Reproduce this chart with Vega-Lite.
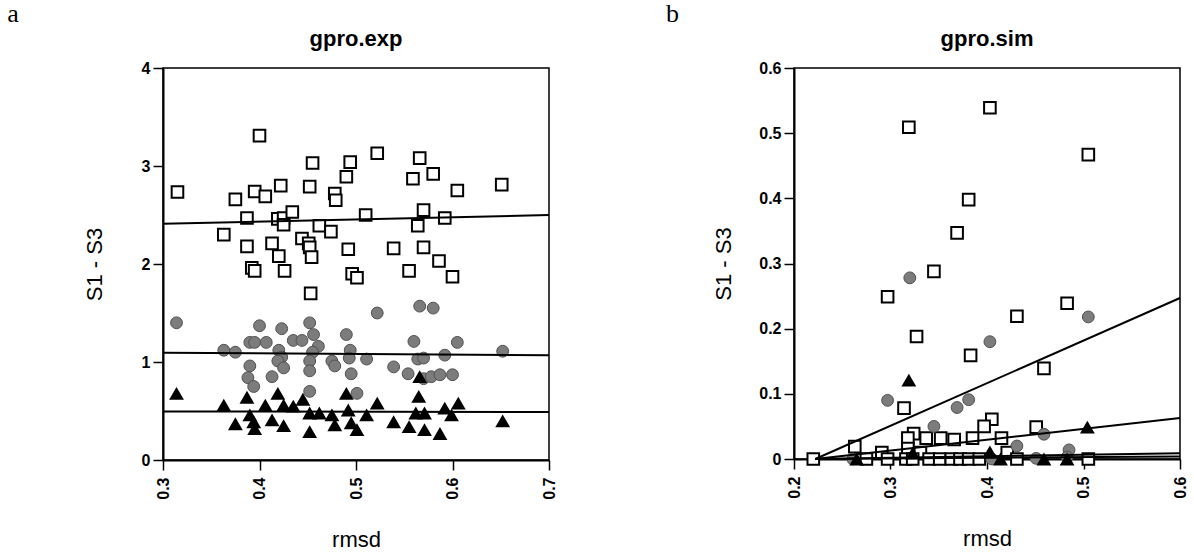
{
  "$schema": "https://vega.github.io/schema/vega-lite/v6.json",
  "background": "white",
  "padding": {"left": 7, "top": 1, "right": 0, "bottom": 0},
  "spacing": 108,
  "datasets": {
    "expPts": [
      {"rmsd": 0.315, "diff": 2.735, "series": "sq"},
      {"rmsd": 0.400, "diff": 3.31, "series": "sq"},
      {"rmsd": 0.375, "diff": 2.66, "series": "sq"},
      {"rmsd": 0.395, "diff": 2.74, "series": "sq"},
      {"rmsd": 0.406, "diff": 2.69, "series": "sq"},
      {"rmsd": 0.422, "diff": 2.80, "series": "sq"},
      {"rmsd": 0.452, "diff": 2.79, "series": "sq"},
      {"rmsd": 0.455, "diff": 3.03, "series": "sq"},
      {"rmsd": 0.478, "diff": 2.72, "series": "sq"},
      {"rmsd": 0.479, "diff": 2.65, "series": "sq"},
      {"rmsd": 0.490, "diff": 2.89, "series": "sq"},
      {"rmsd": 0.494, "diff": 3.04, "series": "sq"},
      {"rmsd": 0.522, "diff": 3.13, "series": "sq"},
      {"rmsd": 0.566, "diff": 3.08, "series": "sq"},
      {"rmsd": 0.559, "diff": 2.87, "series": "sq"},
      {"rmsd": 0.580, "diff": 2.92, "series": "sq"},
      {"rmsd": 0.605, "diff": 2.75, "series": "sq"},
      {"rmsd": 0.651, "diff": 2.81, "series": "sq"},
      {"rmsd": 0.363, "diff": 2.30, "series": "sq"},
      {"rmsd": 0.387, "diff": 2.47, "series": "sq"},
      {"rmsd": 0.387, "diff": 2.18, "series": "sq"},
      {"rmsd": 0.413, "diff": 2.21, "series": "sq"},
      {"rmsd": 0.420, "diff": 2.08, "series": "sq"},
      {"rmsd": 0.419, "diff": 2.46, "series": "sq"},
      {"rmsd": 0.425, "diff": 2.47, "series": "sq"},
      {"rmsd": 0.425, "diff": 2.40, "series": "sq"},
      {"rmsd": 0.434, "diff": 2.53, "series": "sq"},
      {"rmsd": 0.444, "diff": 2.26, "series": "sq"},
      {"rmsd": 0.451, "diff": 2.21, "series": "sq"},
      {"rmsd": 0.452, "diff": 2.17, "series": "sq"},
      {"rmsd": 0.454, "diff": 2.07, "series": "sq"},
      {"rmsd": 0.462, "diff": 2.39, "series": "sq"},
      {"rmsd": 0.474, "diff": 2.33, "series": "sq"},
      {"rmsd": 0.492, "diff": 2.15, "series": "sq"},
      {"rmsd": 0.510, "diff": 2.50, "series": "sq"},
      {"rmsd": 0.539, "diff": 2.16, "series": "sq"},
      {"rmsd": 0.564, "diff": 2.39, "series": "sq"},
      {"rmsd": 0.570, "diff": 2.55, "series": "sq"},
      {"rmsd": 0.570, "diff": 2.17, "series": "sq"},
      {"rmsd": 0.592, "diff": 2.47, "series": "sq"},
      {"rmsd": 0.586, "diff": 2.03, "series": "sq"},
      {"rmsd": 0.600, "diff": 1.87, "series": "sq"},
      {"rmsd": 0.555, "diff": 1.93, "series": "sq"},
      {"rmsd": 0.496, "diff": 1.90, "series": "sq"},
      {"rmsd": 0.501, "diff": 1.86, "series": "sq"},
      {"rmsd": 0.426, "diff": 1.93, "series": "sq"},
      {"rmsd": 0.392, "diff": 1.96, "series": "sq"},
      {"rmsd": 0.395, "diff": 1.93, "series": "sq"},
      {"rmsd": 0.453, "diff": 1.70, "series": "sq"},
      {"rmsd": 0.314, "diff": 1.40, "series": "ci"},
      {"rmsd": 0.363, "diff": 1.12, "series": "ci"},
      {"rmsd": 0.375, "diff": 1.10, "series": "ci"},
      {"rmsd": 0.390, "diff": 1.20, "series": "ci"},
      {"rmsd": 0.395, "diff": 1.20, "series": "ci"},
      {"rmsd": 0.407, "diff": 1.20, "series": "ci"},
      {"rmsd": 0.400, "diff": 1.37, "series": "ci"},
      {"rmsd": 0.423, "diff": 1.34, "series": "ci"},
      {"rmsd": 0.390, "diff": 0.96, "series": "ci"},
      {"rmsd": 0.388, "diff": 0.84, "series": "ci"},
      {"rmsd": 0.394, "diff": 0.75, "series": "ci"},
      {"rmsd": 0.413, "diff": 0.85, "series": "ci"},
      {"rmsd": 0.420, "diff": 1.12, "series": "ci"},
      {"rmsd": 0.423, "diff": 1.05, "series": "ci"},
      {"rmsd": 0.419, "diff": 1.01, "series": "ci"},
      {"rmsd": 0.425, "diff": 0.94, "series": "ci"},
      {"rmsd": 0.435, "diff": 1.22, "series": "ci"},
      {"rmsd": 0.444, "diff": 1.22, "series": "ci"},
      {"rmsd": 0.452, "diff": 1.40, "series": "ci"},
      {"rmsd": 0.456, "diff": 1.28, "series": "ci"},
      {"rmsd": 0.461, "diff": 1.16, "series": "ci"},
      {"rmsd": 0.455, "diff": 1.10, "series": "ci"},
      {"rmsd": 0.452, "diff": 1.01, "series": "ci"},
      {"rmsd": 0.452, "diff": 0.91, "series": "ci"},
      {"rmsd": 0.452, "diff": 0.70, "series": "ci"},
      {"rmsd": 0.475, "diff": 1.01, "series": "ci"},
      {"rmsd": 0.478, "diff": 0.96, "series": "ci"},
      {"rmsd": 0.490, "diff": 1.28, "series": "ci"},
      {"rmsd": 0.494, "diff": 1.12, "series": "ci"},
      {"rmsd": 0.493, "diff": 1.04, "series": "ci"},
      {"rmsd": 0.495, "diff": 0.88, "series": "ci"},
      {"rmsd": 0.501, "diff": 0.68, "series": "ci"},
      {"rmsd": 0.511, "diff": 1.03, "series": "ci"},
      {"rmsd": 0.522, "diff": 1.50, "series": "ci"},
      {"rmsd": 0.539, "diff": 0.95, "series": "ci"},
      {"rmsd": 0.554, "diff": 0.88, "series": "ci"},
      {"rmsd": 0.560, "diff": 1.21, "series": "ci"},
      {"rmsd": 0.566, "diff": 1.57, "series": "ci"},
      {"rmsd": 0.580, "diff": 1.55, "series": "ci"},
      {"rmsd": 0.564, "diff": 1.03, "series": "ci"},
      {"rmsd": 0.570, "diff": 1.04, "series": "ci"},
      {"rmsd": 0.570, "diff": 0.83, "series": "ci"},
      {"rmsd": 0.578, "diff": 0.85, "series": "ci"},
      {"rmsd": 0.587, "diff": 0.87, "series": "ci"},
      {"rmsd": 0.592, "diff": 1.07, "series": "ci"},
      {"rmsd": 0.600, "diff": 0.87, "series": "ci"},
      {"rmsd": 0.605, "diff": 1.20, "series": "ci"},
      {"rmsd": 0.652, "diff": 1.11, "series": "ci"},
      {"rmsd": 0.314, "diff": 0.68, "series": "tr"},
      {"rmsd": 0.363, "diff": 0.56, "series": "tr"},
      {"rmsd": 0.375, "diff": 0.37, "series": "tr"},
      {"rmsd": 0.387, "diff": 0.64, "series": "tr"},
      {"rmsd": 0.390, "diff": 0.46, "series": "tr"},
      {"rmsd": 0.394, "diff": 0.39, "series": "tr"},
      {"rmsd": 0.395, "diff": 0.32, "series": "tr"},
      {"rmsd": 0.406, "diff": 0.56, "series": "tr"},
      {"rmsd": 0.413, "diff": 0.41, "series": "tr"},
      {"rmsd": 0.419, "diff": 0.68, "series": "tr"},
      {"rmsd": 0.425, "diff": 0.56, "series": "tr"},
      {"rmsd": 0.425, "diff": 0.35, "series": "tr"},
      {"rmsd": 0.435, "diff": 0.55, "series": "tr"},
      {"rmsd": 0.445, "diff": 0.62, "series": "tr"},
      {"rmsd": 0.452, "diff": 0.48, "series": "tr"},
      {"rmsd": 0.452, "diff": 0.29, "series": "tr"},
      {"rmsd": 0.462, "diff": 0.48, "series": "tr"},
      {"rmsd": 0.475, "diff": 0.46, "series": "tr"},
      {"rmsd": 0.478, "diff": 0.36, "series": "tr"},
      {"rmsd": 0.490, "diff": 0.68, "series": "tr"},
      {"rmsd": 0.492, "diff": 0.51, "series": "tr"},
      {"rmsd": 0.495, "diff": 0.38, "series": "tr"},
      {"rmsd": 0.501, "diff": 0.31, "series": "tr"},
      {"rmsd": 0.511, "diff": 0.46, "series": "tr"},
      {"rmsd": 0.522, "diff": 0.58, "series": "tr"},
      {"rmsd": 0.539, "diff": 0.39, "series": "tr"},
      {"rmsd": 0.555, "diff": 0.34, "series": "tr"},
      {"rmsd": 0.565, "diff": 0.65, "series": "tr"},
      {"rmsd": 0.562, "diff": 0.48, "series": "tr"},
      {"rmsd": 0.571, "diff": 0.48, "series": "tr"},
      {"rmsd": 0.571, "diff": 0.31, "series": "tr"},
      {"rmsd": 0.587, "diff": 0.27, "series": "tr"},
      {"rmsd": 0.592, "diff": 0.53, "series": "tr"},
      {"rmsd": 0.599, "diff": 0.46, "series": "tr"},
      {"rmsd": 0.606, "diff": 0.58, "series": "tr"},
      {"rmsd": 0.652, "diff": 0.40, "series": "tr"},
      {"rmsd": 0.566, "diff": 0.85, "series": "tr"}
    ],
    "expLines": [
      {"rmsd": 0.3, "diff": 2.41, "series": "sq"},
      {"rmsd": 0.7, "diff": 2.50, "series": "sq"},
      {"rmsd": 0.3, "diff": 1.095, "series": "ci"},
      {"rmsd": 0.7, "diff": 1.07, "series": "ci"},
      {"rmsd": 0.3, "diff": 0.495, "series": "tr"},
      {"rmsd": 0.7, "diff": 0.49, "series": "tr"}
    ],
    "simPts": [
      {"rmsd": 0.319, "diff": 0.509, "series": "sq"},
      {"rmsd": 0.403, "diff": 0.539, "series": "sq"},
      {"rmsd": 0.505, "diff": 0.467, "series": "sq"},
      {"rmsd": 0.381, "diff": 0.398, "series": "sq"},
      {"rmsd": 0.369, "diff": 0.347, "series": "sq"},
      {"rmsd": 0.345, "diff": 0.288, "series": "sq"},
      {"rmsd": 0.297, "diff": 0.249, "series": "sq"},
      {"rmsd": 0.327, "diff": 0.188, "series": "sq"},
      {"rmsd": 0.383, "diff": 0.159, "series": "sq"},
      {"rmsd": 0.431, "diff": 0.219, "series": "sq"},
      {"rmsd": 0.483, "diff": 0.239, "series": "sq"},
      {"rmsd": 0.459, "diff": 0.139, "series": "sq"},
      {"rmsd": 0.314, "diff": 0.078, "series": "sq"},
      {"rmsd": 0.405, "diff": 0.061, "series": "sq"},
      {"rmsd": 0.397, "diff": 0.050, "series": "sq"},
      {"rmsd": 0.451, "diff": 0.049, "series": "sq"},
      {"rmsd": 0.415, "diff": 0.032, "series": "sq"},
      {"rmsd": 0.385, "diff": 0.032, "series": "sq"},
      {"rmsd": 0.366, "diff": 0.030, "series": "sq"},
      {"rmsd": 0.352, "diff": 0.032, "series": "sq"},
      {"rmsd": 0.337, "diff": 0.032, "series": "sq"},
      {"rmsd": 0.324, "diff": 0.039, "series": "sq"},
      {"rmsd": 0.318, "diff": 0.032, "series": "sq"},
      {"rmsd": 0.263, "diff": 0.019, "series": "sq"},
      {"rmsd": 0.291, "diff": 0.010, "series": "sq"},
      {"rmsd": 0.331, "diff": 0.010, "series": "sq"},
      {"rmsd": 0.318, "diff": 0.016, "series": "sq"},
      {"rmsd": 0.421, "diff": 0.010, "series": "sq"},
      {"rmsd": 0.220, "diff": 0.0, "series": "sq"},
      {"rmsd": 0.275, "diff": 0.0, "series": "sq"},
      {"rmsd": 0.297, "diff": 0.0, "series": "sq"},
      {"rmsd": 0.316, "diff": 0.0, "series": "sq"},
      {"rmsd": 0.323, "diff": 0.0, "series": "sq"},
      {"rmsd": 0.340, "diff": 0.0, "series": "sq"},
      {"rmsd": 0.351, "diff": 0.0, "series": "sq"},
      {"rmsd": 0.363, "diff": 0.0, "series": "sq"},
      {"rmsd": 0.372, "diff": 0.0, "series": "sq"},
      {"rmsd": 0.381, "diff": 0.0, "series": "sq"},
      {"rmsd": 0.392, "diff": 0.0, "series": "sq"},
      {"rmsd": 0.431, "diff": 0.0, "series": "sq"},
      {"rmsd": 0.505, "diff": 0.0, "series": "sq"},
      {"rmsd": 0.320, "diff": 0.278, "series": "ci"},
      {"rmsd": 0.297, "diff": 0.090, "series": "ci"},
      {"rmsd": 0.403, "diff": 0.180, "series": "ci"},
      {"rmsd": 0.505, "diff": 0.218, "series": "ci"},
      {"rmsd": 0.381, "diff": 0.091, "series": "ci"},
      {"rmsd": 0.369, "diff": 0.079, "series": "ci"},
      {"rmsd": 0.345, "diff": 0.050, "series": "ci"},
      {"rmsd": 0.459, "diff": 0.038, "series": "ci"},
      {"rmsd": 0.431, "diff": 0.020, "series": "ci"},
      {"rmsd": 0.485, "diff": 0.014, "series": "ci"},
      {"rmsd": 0.451, "diff": 0.001, "series": "ci"},
      {"rmsd": 0.405, "diff": 0.0, "series": "ci"},
      {"rmsd": 0.261, "diff": 0.0, "series": "ci"},
      {"rmsd": 0.483, "diff": 0.003, "series": "ci"},
      {"rmsd": 0.319, "diff": 0.121, "series": "tr"},
      {"rmsd": 0.504, "diff": 0.049, "series": "tr"},
      {"rmsd": 0.403, "diff": 0.011, "series": "tr"},
      {"rmsd": 0.459, "diff": 0.0, "series": "tr"},
      {"rmsd": 0.483, "diff": 0.0, "series": "tr"},
      {"rmsd": 0.323, "diff": 0.009, "series": "tr"},
      {"rmsd": 0.414, "diff": 0.0, "series": "tr"},
      {"rmsd": 0.265, "diff": 0.0, "series": "tr"}
    ],
    "simLines": [
      {"rmsd": 0.222, "diff": 0.0, "series": "sq"},
      {"rmsd": 0.6, "diff": 0.247, "series": "sq"},
      {"rmsd": 0.222, "diff": 0.0, "series": "ci"},
      {"rmsd": 0.6, "diff": 0.063, "series": "ci"},
      {"rmsd": 0.222, "diff": 0.0, "series": "tr"},
      {"rmsd": 0.6, "diff": 0.009, "series": "tr"},
      {"rmsd": 0.222, "diff": 0.0, "series": "tr2"},
      {"rmsd": 0.6, "diff": 0.004, "series": "tr2"}
    ]
  },
  "hconcat": [
    {
      "title": {"text": "a", "anchor": "start", "font": "Liberation Serif", "fontSize": 26, "fontWeight": "normal", "color": "black", "dx": -75, "offset": 0},
      "vconcat": [
        {
          "title": {"text": "gpro.exp", "font": "Liberation Sans", "fontSize": 22, "fontWeight": "bold", "color": "black", "offset": 9},
          "width": 386,
          "height": 392,
          "layer": [
            {
              "data": {"name": "expPts"},
              "transform": [{"filter": "datum.series === 'sq'"}],
              "mark": {"type": "point", "shape": "square", "filled": true, "fill": "white", "stroke": "black", "strokeWidth": 2, "size": 135, "opacity": 1},
              "encoding": {
                "x": {"field": "rmsd", "type": "quantitative", "scale": {"domain": [0.3, 0.7], "nice": false, "zero": false}, "axis": {"title": "rmsd", "values": [0.3, 0.4, 0.5, 0.6, 0.7], "format": "~g", "labelAngle": 270, "labelPadding": 7, "titlePadding": 30}},
                "y": {"field": "diff", "type": "quantitative", "scale": {"domain": [0, 4], "nice": false}, "axis": {"title": "S1 - S3", "values": [0, 1, 2, 3, 4], "format": "~g", "titlePadding": 35}}
              }
            },
            {
              "data": {"name": "expPts"},
              "transform": [{"filter": "datum.series === 'ci'"}],
              "mark": {"type": "point", "shape": "circle", "filled": true, "fill": "#7c7c7c", "stroke": "#505050", "strokeWidth": 1, "size": 140, "opacity": 1},
              "encoding": {
                "x": {"field": "rmsd", "type": "quantitative"},
                "y": {"field": "diff", "type": "quantitative"}
              }
            },
            {
              "data": {"name": "expPts"},
              "transform": [{"filter": "datum.series === 'tr'"}],
              "mark": {"type": "point", "shape": "triangle-up", "filled": true, "fill": "black", "strokeWidth": 0, "size": 220, "opacity": 1},
              "encoding": {
                "x": {"field": "rmsd", "type": "quantitative"},
                "y": {"field": "diff", "type": "quantitative"}
              }
            },
            {
              "data": {"name": "expLines"},
              "mark": {"type": "line", "color": "black", "strokeWidth": 2},
              "encoding": {
                "x": {"field": "rmsd", "type": "quantitative"},
                "y": {"field": "diff", "type": "quantitative"},
                "detail": {"field": "series"}
              }
            }
          ]
        }
      ]
    },
    {
      "title": {"text": "b", "anchor": "start", "font": "Liberation Serif", "fontSize": 26, "fontWeight": "normal", "color": "black", "dx": -46, "offset": 0},
      "vconcat": [
        {
          "title": {"text": "gpro.sim", "font": "Liberation Sans", "fontSize": 22, "fontWeight": "bold", "color": "black", "offset": 9},
          "width": 386,
          "height": 391,
          "layer": [
            {
              "data": {"name": "simPts"},
              "transform": [{"filter": "datum.series === 'sq'"}],
              "mark": {"type": "point", "shape": "square", "filled": true, "fill": "white", "stroke": "black", "strokeWidth": 2, "size": 135, "opacity": 1},
              "encoding": {
                "x": {"field": "rmsd", "type": "quantitative", "scale": {"domain": [0.2, 0.6], "nice": false, "zero": false}, "axis": {"title": "rmsd", "values": [0.2, 0.3, 0.4, 0.5, 0.6], "format": "~g", "labelAngle": 270, "labelPadding": 7, "titlePadding": 30}},
                "y": {"field": "diff", "type": "quantitative", "scale": {"domain": [0, 0.6], "nice": false}, "axis": {"title": "S1 - S3", "values": [0, 0.1, 0.2, 0.3, 0.4, 0.5, 0.6], "format": "~g", "titlePadding": 23}}
              }
            },
            {
              "data": {"name": "simPts"},
              "transform": [{"filter": "datum.series === 'ci'"}],
              "mark": {"type": "point", "shape": "circle", "filled": true, "fill": "#7c7c7c", "stroke": "#505050", "strokeWidth": 1, "size": 140, "opacity": 1},
              "encoding": {
                "x": {"field": "rmsd", "type": "quantitative"},
                "y": {"field": "diff", "type": "quantitative"}
              }
            },
            {
              "data": {"name": "simPts"},
              "transform": [{"filter": "datum.series === 'tr'"}],
              "mark": {"type": "point", "shape": "triangle-up", "filled": true, "fill": "black", "strokeWidth": 0, "size": 220, "opacity": 1},
              "encoding": {
                "x": {"field": "rmsd", "type": "quantitative"},
                "y": {"field": "diff", "type": "quantitative"}
              }
            },
            {
              "data": {"name": "simLines"},
              "mark": {"type": "line", "color": "black", "strokeWidth": 2},
              "encoding": {
                "x": {"field": "rmsd", "type": "quantitative"},
                "y": {"field": "diff", "type": "quantitative"},
                "detail": {"field": "series"}
              }
            }
          ]
        }
      ]
    }
  ],
  "config": {
    "view": {"stroke": "black", "strokeWidth": 1.5},
    "axis": {
      "domainColor": "black", "domainWidth": 2,
      "tickColor": "black", "tickWidth": 1.5, "tickSize": 10,
      "labelColor": "black", "labelFont": "Liberation Sans", "labelFontSize": 16, "labelFontWeight": "bold", "labelPadding": 3,
      "labelFlush": false, "labelOverlap": false,
      "titleColor": "black", "titleFont": "Liberation Sans", "titleFontSize": 22, "titleFontWeight": "normal",
      "grid": false
    }
  }
}
